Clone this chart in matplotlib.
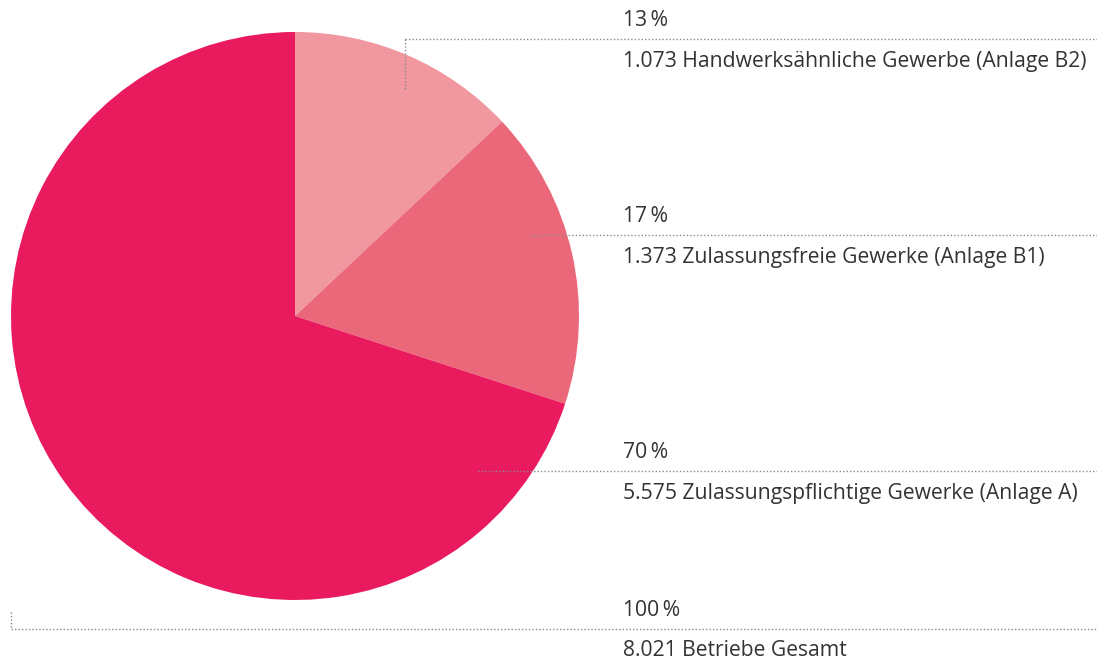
import matplotlib.pyplot as plt

# Betriebe nach Anlagen der Handwerksordnung
labels = ["Handwerksähnliche Gewerbe (Anlage B2)",
          "Zulassungsfreie Gewerke (Anlage B1)",
          "Zulassungspflichtige Gewerke (Anlage A)"]
counts = [1073, 1373, 5575]
percents = [13, 17, 70]
colors = ["#F0979F", "#EB687A", "#E91B5E"]
total_count = 8021
total_label = "Betriebe Gesamt"

plt.rcParams['font.family'] = ['Open Sans', 'DejaVu Sans']

W, H = 1097, 664
fig = plt.figure(figsize=(W / 100, H / 100), dpi=100)
ax = fig.add_axes([0, 0, 1, 1])

cx, cy, r = 295, 316, 284
# y axis is inverted, so counterclock=True draws clockwise on screen
ax.pie(percents, colors=colors, startangle=-90, counterclock=True,
       center=(cx, cy), radius=r, frame=True,
       wedgeprops=dict(linewidth=0))
ax.set_xlim(0, W)
ax.set_ylim(H, 0)
ax.set_aspect('equal')
ax.axis('off')

line_kw = dict(color="#8a8a8a", lw=1.0, ls=(0, (1, 1.5)))
text_kw = dict(color="#333333", fontsize=15.2, ha='left', va='center')
tx = 623
xr = 1097

# leader lines: (start x, start y, line y)
leaders = [(405, 89, 39), (530, 235, 235), (478, 471, 471)]
for (sx, sy, ly), lab, n, p in zip(leaders, labels, counts, percents):
    if sy != ly:
        ax.plot([sx, sx], [sy, ly], **line_kw)
    ax.plot([sx, xr], [ly, ly], **line_kw)
    ax.text(tx, ly - 18, f"{p}\u2009%", **text_kw)
    ax.text(tx, ly + 22, f"{n:,}".replace(",", ".") + " " + lab, **text_kw)

# total
ax.plot([11, 11], [612, 629], **line_kw)
ax.plot([11, xr], [629, 629], **line_kw)
ax.text(tx, 611, "100\u2009%", **text_kw)
ax.text(tx, 650, f"{total_count:,}".replace(",", ".") + " " + total_label, **text_kw)

fig.savefig("out.png", dpi=100)
